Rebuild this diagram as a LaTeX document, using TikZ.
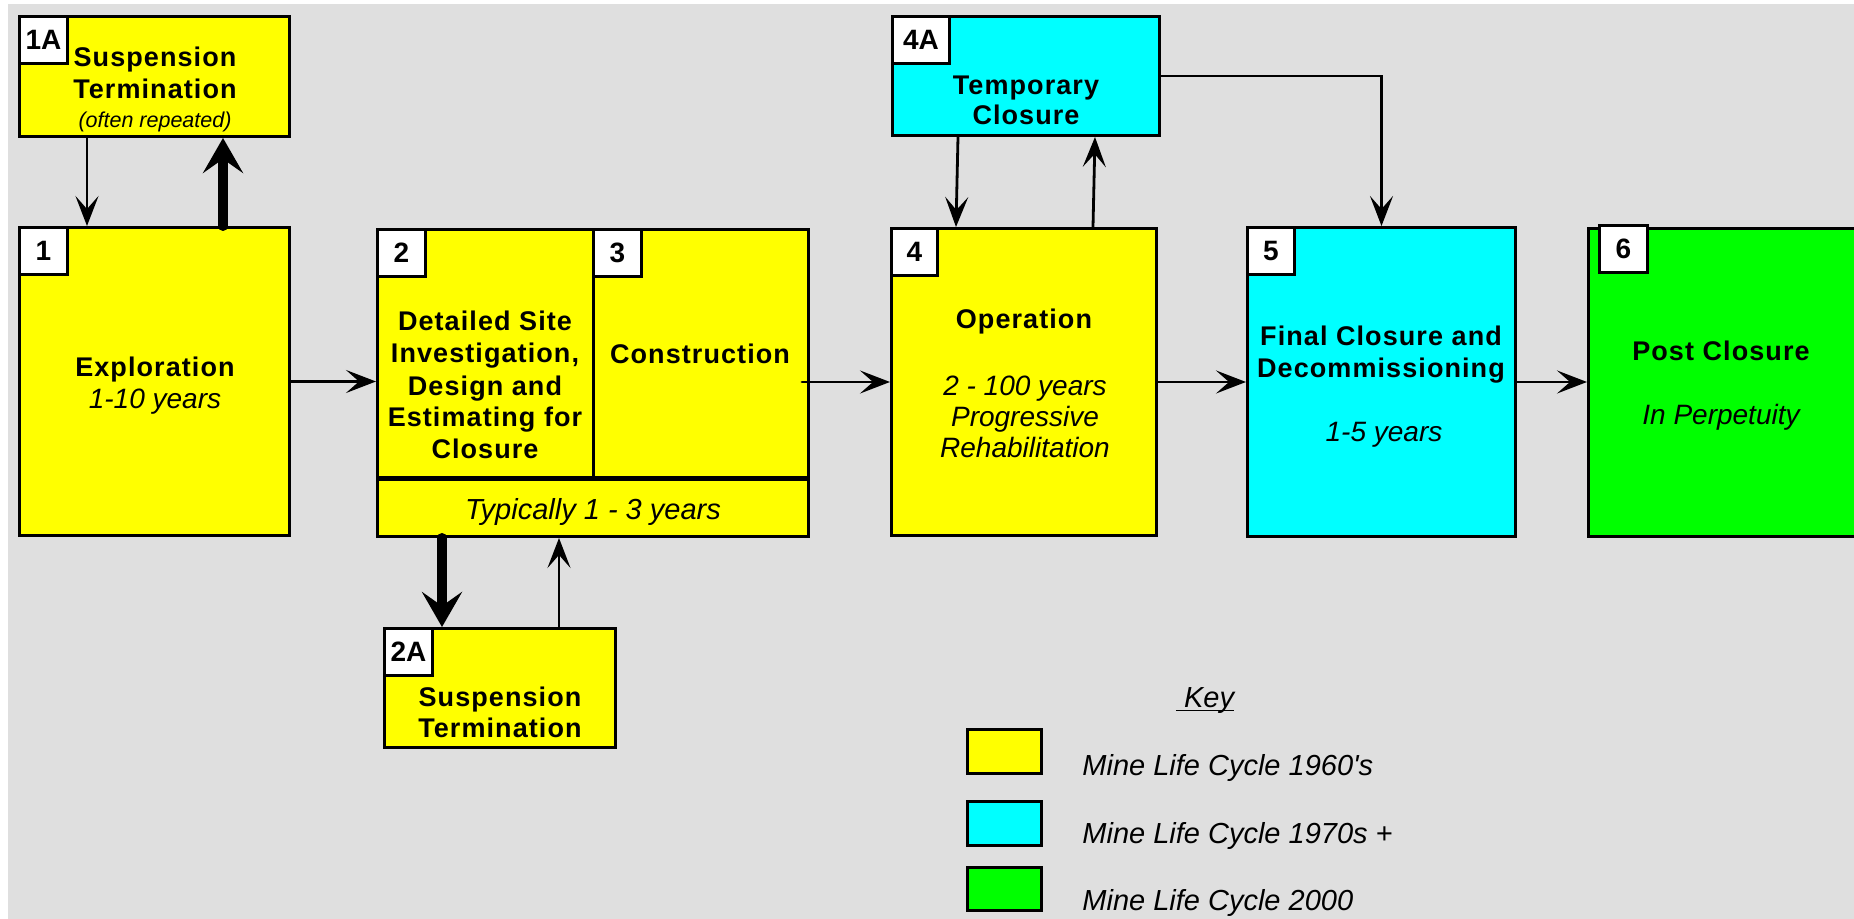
\documentclass[tikz,border=0pt]{standalone}
\usepackage{fontspec}
\setmainfont{Liberation Sans}
\newfontfamily\trk{Liberation Sans}[LetterSpace=4]
\usetikzlibrary{arrows.meta,calc}
\definecolor{bg}{RGB}{223,223,223}
\definecolor{yel}{RGB}{255,255,0}
\definecolor{cya}{RGB}{0,255,255}
\definecolor{grn}{RGB}{0,255,0}
\tikzset{
  stage/.style={draw=black, line width=1.5pt, inner sep=0pt},
  numsq/.style={draw=black, fill=white, line width=1.5pt, anchor=north west,
    minimum width=24pt, minimum height=23.5pt, inner sep=0pt,
    font=\fontsize{14}{16}\selectfont\bfseries},
  bt/.style={anchor=base, align=center, inner sep=0pt,
    font=\trk\bfseries\fontsize{13.5}{16}\selectfont},
  it/.style={anchor=base, align=center, inner sep=0pt,
    font=\fontsize{14}{15.5}\selectfont\itshape},
  lt/.style={anchor=base west, inner sep=0pt,
    font=\fontsize{14.5}{16}\selectfont\itshape},
  arr/.style={line width=1.4pt, -{Stealth[length=15pt,width=11.5pt,inset=6.5pt]}},
  fat/.style={line width=5pt, line cap=round, -{Stealth[length=17.5pt,width=20pt,inset=7pt]}},
}
\begin{document}
\begin{tikzpicture}[x=0.5pt,y=-0.5pt]
\useasboundingbox (0,0) rectangle (1854,919);
\clip (0,0) rectangle (1854,919);
\fill[bg] (8,4) rectangle (1854,919);

% 1A
\node[stage, fill=yel, minimum width=135pt, minimum height=60pt] (n1a) at (154.5,76.5) {};
\node[numsq] (q1a) at (n1a.north west) {1A};
\node[bt] (t1a) at (155,99) {Suspension\\Termination};
\node[it, font=\fontsize{10.75}{12}\selectfont\itshape] (t1ar) at (155,128) {(often repeated)};

% 1
\node[stage, fill=yel, minimum width=135pt, minimum height=154pt] (n1) at (154.5,381.5) {};
\node[numsq] (q1) at (n1.north west) {1};
\node[bt] (t1) at (155,377) {Exploration};
\node[it] (t1y) at (155,409) {1-10 years};

% 2, 3 and duration bar
\node[stage, fill=yel, minimum width=108pt, minimum height=124pt] (n2) at (485.5,353.5) {};
\node[stage, fill=yel, minimum width=107.5pt, minimum height=124pt] (n3) at (701,353.5) {};
\node[stage, fill=yel, minimum width=215.5pt, minimum height=28.5pt] (ntyp) at (593,508) {};
\node[numsq] (q2) at (n2.north west) {2};
\node[numsq] (q3) at (n3.north west) {3};
\node[bt] (t2) at (485,459) {Detailed Site\\Investigation,\\Design and\\Estimating for\\Closure};
\node[bt] (t3) at (700,364) {Construction};
\node[it, font=\fontsize{14.5}{16}\selectfont\itshape] (ttyp) at (593,520) {Typically 1 - 3 years};

% 2A
\node[stage, fill=yel, minimum width=115.5pt, minimum height=59.5pt] (n2a) at (500,688) {};
\node[numsq] (q2a) at (n2a.north west) {2A};
\node[bt, font=\trk\bfseries\fontsize{13.5}{15.5}\selectfont] (t2a) at (500,737) {Suspension\\Termination};

% 4A
\node[stage, fill=cya, minimum width=133.5pt, minimum height=59.5pt] (n4a) at (1026,76) {};
\node[numsq, minimum width=28.5pt] (q4a) at (n4a.north west) {4A};
\node[bt, font=\trk\bfseries\fontsize{13.5}{15}\selectfont] (t4a) at (1026,125) {Temporary\\Closure};

% 4
\node[stage, fill=yel, minimum width=132.5pt, minimum height=153.5pt] (n4) at (1024,382) {};
\node[numsq, minimum width=23pt] (q4) at (n4.north west) {4};
\node[bt] (t4) at (1024,329) {Operation};
\node[it] (t4y) at (1025,458) {2 - 100 years\\Progressive\\Rehabilitation};

% 5
\node[stage, fill=cya, minimum width=134pt, minimum height=154.5pt] (n5) at (1381.5,382) {};
\node[numsq, minimum width=23.5pt] (q5) at (n5.north west) {5};
\node[bt] (t5) at (1381,378) {Final Closure and\\Decommissioning};
\node[it] (t5y) at (1384,442) {1-5 years};

% 6
\node[stage, fill=grn, minimum width=134pt, minimum height=154pt] (n6) at (1722.5,382.5) {};
\node[numsq] (q6) at ($(n6.north west)+(11,-3)$) {6};
\node[bt] (t6) at (1721,361) {Post Closure};
\node[it] (t6y) at (1721,425) {In Perpetuity};

% connectors
\draw[arr] ($(n1a.south west)+(69,0)$) -- ($(n1.north west)+(69,0)$);
\draw[fat] ($(n1.north west)+(205,0)$) -- ($(n1a.south west)+(205,0)$);
\draw[arr] (n1.east) -- (n1.east -| n2.west);
\coordinate (s3) at (802,382);
\draw[arr, line cap=round] (s3) -- (s3 -| n4.west);
\draw[arr] (n4.east) -- (n4.east -| n5.west);
\draw[arr] (n5.east) -- (n5.east -| n6.west);
\draw[arr] ($(n4a.south west)+(67,0)$) -- ($(n4.north west)+(66,0)$);
\draw[arr] ($(n4.north west)+(203,0)$) -- ($(n4a.south west)+(204,0)$);
\draw[arr] (n4a.east) -| (n5.north);
\draw[fat] ($(ntyp.south west)+(66,0)$) -- ($(n2a.north west)+(59,0)$);
\draw[arr] ($(n2a.north west)+(176,0)$) -- ($(ntyp.south west)+(183,0)$);

% key
\node[anchor=base, inner sep=0pt, font=\fontsize{14.5}{16}\selectfont\itshape] (key) at (1205,707)
  {\setbox0\hbox{\ Key}\rlap{\rule[-2pt]{\wd0}{0.7pt}}\box0};
\node[stage, fill=yel, minimum width=37pt, minimum height=22pt] (k1) at (1004.5,751.5) {};
\node[stage, fill=cya, minimum width=37pt, minimum height=22pt] (k2) at (1004.5,823.5) {};
\node[stage, fill=grn, minimum width=37pt, minimum height=21.5pt] (k3) at (1004.5,889) {};
\node[lt] (l1) at (1082,775) {Mine Life Cycle 1960\textquotesingle s};
\node[lt] (l2) at (1082,843) {Mine Life Cycle 1970s +};
\node[lt] (l3) at (1082,910) {Mine Life Cycle 2000};
\end{tikzpicture}
\end{document}
